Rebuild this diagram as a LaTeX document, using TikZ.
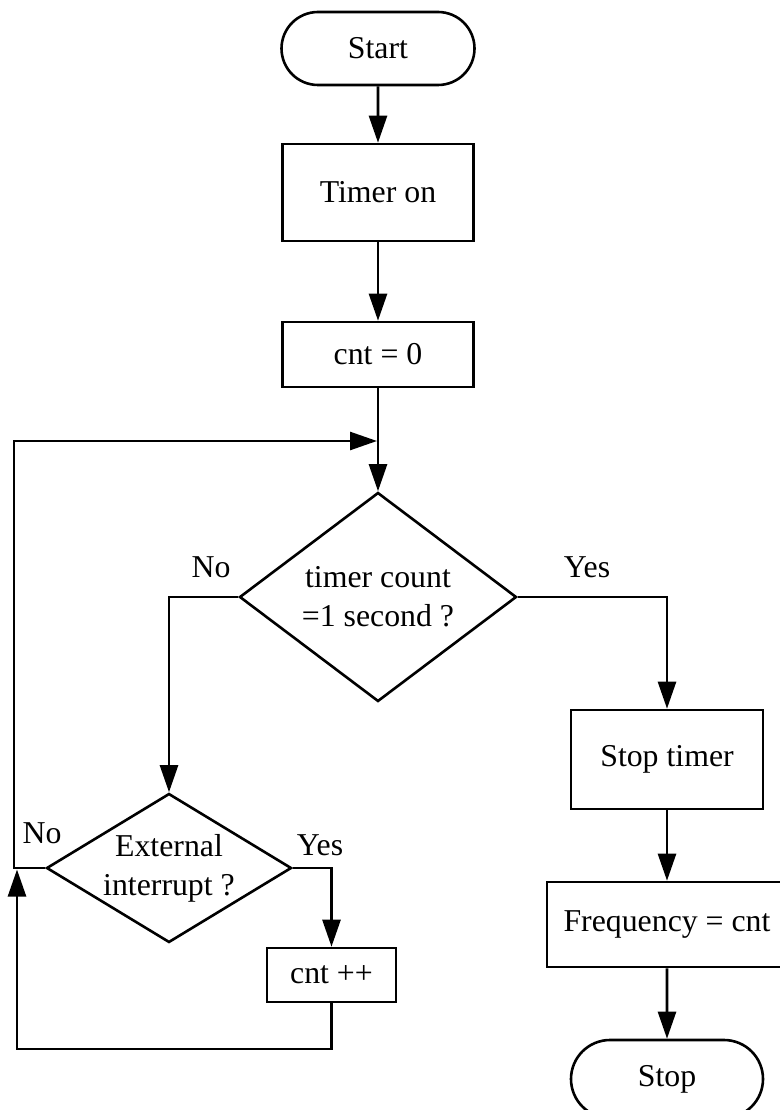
\documentclass[tikz,border=0pt]{standalone}
\usepackage{fontspec}
\setmainfont{Liberation Serif}
\usetikzlibrary{shapes.geometric,shapes.misc,arrows.meta}
\begin{document}
\begin{tikzpicture}[x=1pt,y=-1pt,
  every node/.style={font=\fontsize{31.8}{39}\selectfont},
  arr/.style={line width=2.6pt, -{Triangle[length=27pt,width=18pt]}},
  term/.style={rounded rectangle, draw, line width=2.6pt, inner sep=0pt},
  proc/.style={rectangle, draw, line width=2.6pt, inner sep=0pt},
  dec/.style={diamond, draw, line width=2.6pt, inner sep=0pt, align=center},
  lbl/.style={anchor=base, inner sep=0pt}
]
\fill[white] (0,0) rectangle (779,1110);
\useasboundingbox (0,0) rectangle (779,1110);

\node[term, minimum width=193pt, minimum height=73pt] (start) at (378,48.5) {Start};
\node[proc, minimum width=191pt, minimum height=97pt] (timer) at (378,192.5) {Timer on};
\node[proc, minimum width=191pt, minimum height=65pt] (cnt0) at (378,354.5) {cnt = 0};
\node[dec, minimum width=277pt, minimum height=209pt, shape aspect=1.325] (d1) at (378,597) {timer count\\=1 second ?};
\node[proc, minimum width=192pt, minimum height=99pt] (stopt) at (667,759.5) {Stop timer};
\node[proc, minimum width=240pt, minimum height=85pt] (freq) at (667,924.5) {Frequency = cnt};
\node[term, minimum width=192pt, minimum height=78pt] (stop) at (667,1079) {Stop};
\node[dec, minimum width=245pt, minimum height=149pt, shape aspect=1.644] (d2) at (169,868) {External\\interrupt ?};
\node[proc, minimum width=129pt, minimum height=54pt] (cpp) at (331.5,975) {cnt ++};

\node[lbl] (no1) at (211,577) {No};
\node[lbl] (yes1) at (587,577) {Yes};
\node[lbl] (no2) at (42,843) {No};
\node[lbl] (yes2) at (320,855) {Yes};

\coordinate (j) at (377,441);
\coordinate (l1) at (14,868);
\coordinate (l2) at (14,441);
\coordinate (b1) at (331.5,1049);
\coordinate (b2) at (17,1049);
\coordinate (b3) at (17,869.5);

\draw[arr] (start) -- (timer);
\draw[arr] (timer) -- (cnt0);
\draw[arr] (cnt0) -- (d1.north);
\draw[arr] (d1.west) -| (d2.north);
\draw[arr] (d1.east) -| (stopt.north);
\draw[arr] (stopt) -- (freq);
\draw[arr] (freq) -- (stop);
\draw[arr] (d2.east) -| (cpp.north);
\draw[arr] (d2.west) -- (l1) -- (l2) -- (j);
\draw[arr] (cpp.south) -- (b1) -- (b2) -- (b3);
\end{tikzpicture}
\end{document}
